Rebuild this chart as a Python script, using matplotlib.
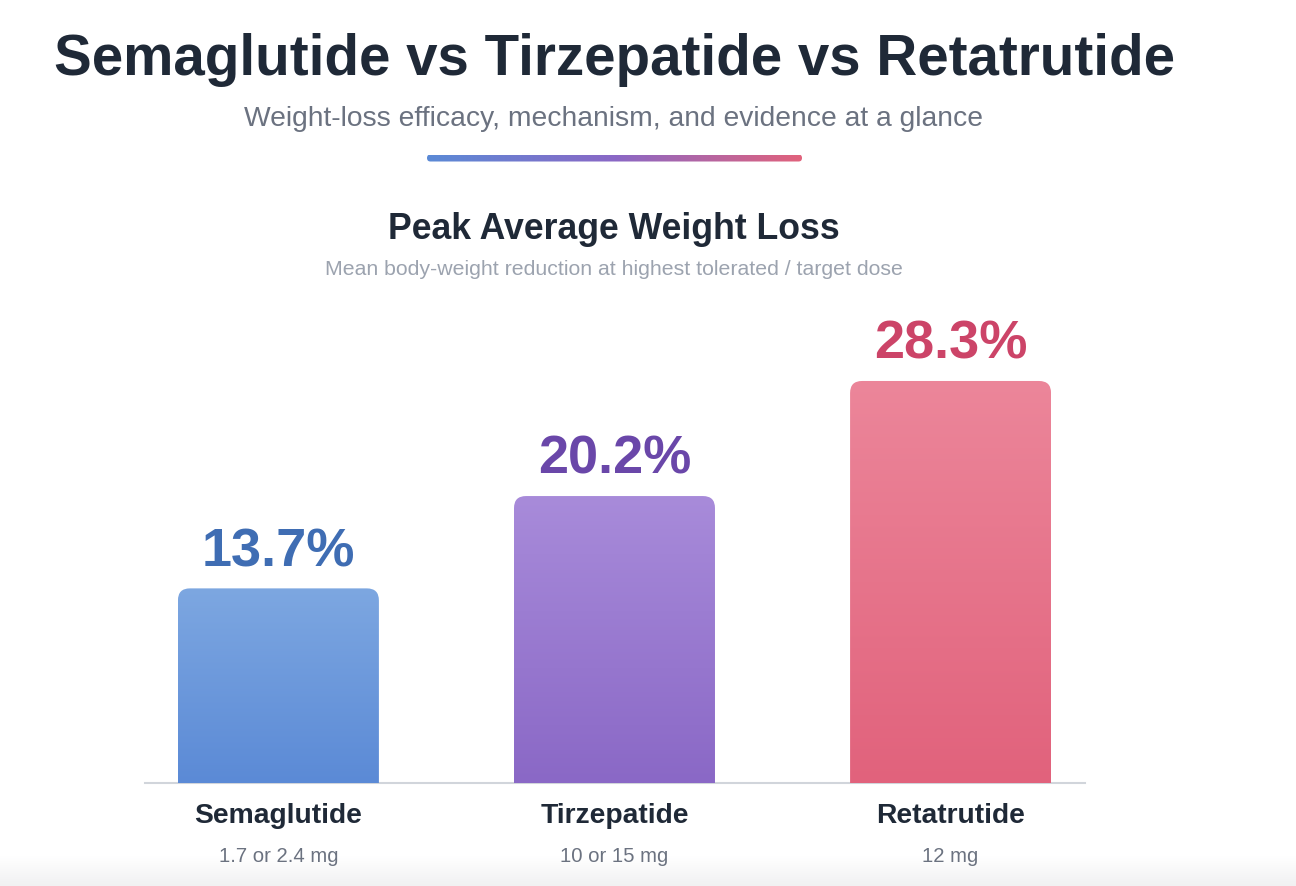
#!/usr/bin/env python3
# Peak average weight loss: semaglutide vs tirzepatide vs retatrutide

import numpy as np
import matplotlib
matplotlib.use('Agg')
import matplotlib.pyplot as plt
from matplotlib.patches import FancyBboxPatch
from matplotlib.colors import LinearSegmentedColormap

plt.rcParams['font.family'] = ['Liberation Sans', 'DejaVu Sans']

# Data
drugs = ['Semaglutide', 'Tirzepatide', 'Retatrutide']
doses = ['1.7 or 2.4 mg', '10 or 15 mg', '12 mg']
weight_loss = [13.7, 20.2, 28.3]

# Styling
bar_top = ['#7DA7E1', '#A88BDA', '#EC869A']
bar_bottom = ['#5B8AD6', '#8A68C6', '#E1627C']
label_colors = ['#3F6DB3', '#6A47A9', '#CC4468']
DARK = '#1F2937'
GRAY = '#6B7280'
LIGHT_GRAY = '#9CA3AF'

W, H, DPI = 1296, 886, 100
fig = plt.figure(figsize=(W / DPI, H / DPI), dpi=DPI)
fig.patch.set_facecolor('white')

# Overlay axes in pixel coordinates for headings and decorations
over = fig.add_axes([0, 0, 1, 1])
over.set_xlim(0, W)
over.set_ylim(H, 0)
over.axis('off')
over.patch.set_alpha(0)

# subtle shade at the very bottom
shade = np.linspace(0, 1, 50).reshape(-1, 1)
shade_cmap = LinearSegmentedColormap.from_list('shade', ['#FFFFFF', '#F1F1F2'])
over.imshow(shade, cmap=shade_cmap, extent=(0, W, H, H - 30), aspect='auto', zorder=0)

over.text(614, 75, 'Semaglutide vs Tirzepatide vs Retatrutide', ha='center', va='baseline',
          fontsize=40.7, fontweight='bold', color=DARK)
over.text(614, 126, 'Weight-loss efficacy, mechanism, and evidence at a glance', ha='center',
          va='baseline', fontsize=20.3, color=GRAY)

# gradient divider
grad = np.linspace(0, 1, 256).reshape(1, -1)
div_cmap = LinearSegmentedColormap.from_list('div', ['#5B8AD6', '#8A68C6', '#E1627C'])
x0, x1, yc, th = 427, 802, 158, 7
im = over.imshow(grad, cmap=div_cmap, extent=(x0, x1, yc + th / 2, yc - th / 2), aspect='auto')
clip = FancyBboxPatch((x0, yc - th / 2), x1 - x0, th, boxstyle='round,pad=0,rounding_size=3.5',
                      transform=over.transData, facecolor='none', edgecolor='none')
over.add_patch(clip)
im.set_clip_path(clip)

over.text(614, 239, 'Peak Average Weight Loss', ha='center', va='baseline',
          fontsize=25.7, fontweight='bold', color=DARK)
over.text(614, 275, 'Mean body-weight reduction at highest tolerated / target dose', ha='center',
          va='baseline', fontsize=15.3, color=LIGHT_GRAY)

# Main bar chart
ax_left, ax_right, ax_base, ax_top = 145, 1085, 783, 300
ax = fig.add_axes([ax_left / W, (H - ax_base) / H, (ax_right - ax_left) / W, (ax_base - ax_top) / H])
ax.patch.set_alpha(0)
x = np.arange(len(drugs))
ax.set_xlim(-0.397, 2.4)
ax.set_ylim(0, 34)
for s in ['top', 'right', 'left']:
    ax.spines[s].set_visible(False)
ax.spines['bottom'].set_color('#D1D5DB')
ax.spines['bottom'].set_linewidth(1.5)
ax.spines['bottom'].set_zorder(1)
ax.set_xticks([])
ax.set_yticks([])

bars = ax.bar(x, weight_loss, width=0.598, color='none', edgecolor='none')

# px per data unit, to keep the corner rounding circular
px_x = (ax_right - ax_left) / (2.4 + 0.397)
px_y = (ax_base - ax_top) / 34
radius_px = 12

for i, rect in enumerate(bars):
    bx, bw, bh = rect.get_x(), rect.get_width(), rect.get_height()
    cmap = LinearSegmentedColormap.from_list('b%d' % i, [bar_bottom[i], bar_top[i]])
    g = np.linspace(0, 1, 256).reshape(-1, 1)
    img = ax.imshow(g, cmap=cmap, extent=(bx, bx + bw, 0, bh), origin='lower',
                    aspect='auto', zorder=2)
    shape = FancyBboxPatch((bx, -2), bw, bh + 2,
                           boxstyle='round,pad=0,rounding_size=%f' % (radius_px / px_x),
                           mutation_aspect=px_x / px_y,
                           facecolor='none', edgecolor='none', transform=ax.transData)
    ax.add_patch(shape)
    img.set_clip_path(shape)

    ax.annotate('%.1f%%' % weight_loss[i], xy=(x[i], bh), xytext=(0, 16), textcoords='offset points',
                ha='center', va='baseline', fontsize=39, fontweight='bold', color=label_colors[i],
                annotation_clip=False)
    ax.annotate(drugs[i], xy=(x[i], 0), xytext=(0, -28.8), textcoords='offset points',
                ha='center', va='baseline', fontsize=20.3, fontweight='bold', color=DARK,
                annotation_clip=False)
    ax.annotate(doses[i], xy=(x[i], 0), xytext=(0, -56.9), textcoords='offset points',
                ha='center', va='baseline', fontsize=14.6, color=GRAY, annotation_clip=False)

ax.set_xlim(-0.397, 2.4)
ax.set_ylim(0, 34)

fig.savefig('out.png', dpi=DPI)
